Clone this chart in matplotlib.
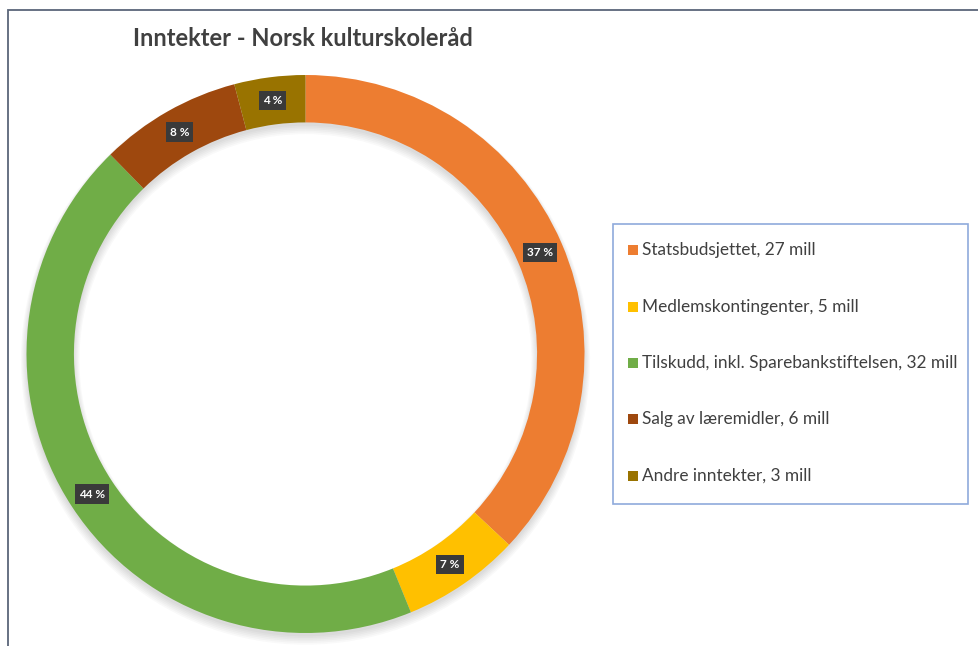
import matplotlib
matplotlib.use("Agg")
import matplotlib.pyplot as plt
from matplotlib.patches import Rectangle
import numpy as np

plt.rcParams['font.family'] = ['Lato', 'DejaVu Sans']

categories = ["Statsbudsjettet, 27 mill", "Medlemskontingenter, 5 mill",
              "Tilskudd, inkl. Sparebankstiftelsen, 32 mill",
              "Salg av læremidler, 6 mill", "Andre inntekter, 3 mill"]
values = [27, 5, 32, 6, 3]
colors = ["#ED7D31", "#FFC000", "#70AD47", "#9E480E", "#997300"]
title = "Inntekter - Norsk kulturskoleråd"

W, H = 979, 646
fig = plt.figure(figsize=(W / 100, H / 100), dpi=100)
fig.patch.set_facecolor("white")

def fx(px):
    return px / W

def fy(py):
    return 1 - py / H

# outer frame
fig.patches.append(Rectangle((fx(8), fy(700)), fx(1200), fy(10) - fy(700),
                             transform=fig.transFigure, fill=False,
                             edgecolor="#5a6679", linewidth=1.3))

cx, cy, R = 305.5, 354, 279
ax = fig.add_axes([fx(cx - R), fy(cy + R), fx(2 * R), (2 * R) / H])
ax.axis("off")

ringw = 0.17
# soft shadow
for k in range(6):
    ax.pie(values, colors=["#000000"] * len(values), startangle=90,
           counterclock=False, radius=1.0 + 0.004 * k,
           center=(0.0, -0.012 - 0.002 * k),
           wedgeprops=dict(width=ringw + 0.008 * k, alpha=0.025, linewidth=0))

wedges, _ = ax.pie(values, colors=colors, startangle=90, counterclock=False,
                   radius=1.0, wedgeprops=dict(width=ringw, linewidth=0))
ax.set_xlim(-1, 1)
ax.set_ylim(-1, 1)
ax.set_aspect("equal")

total = sum(values)
for w, v in zip(wedges, values):
    ang = np.deg2rad((w.theta1 + w.theta2) / 2)
    r = 1 - ringw / 2
    ax.text(r * np.cos(ang), r * np.sin(ang), f"{round(100 * v / total)} %",
            ha="center", va="center", color="white", fontsize=8.5, fontweight="bold",
            bbox=dict(boxstyle="square,pad=0.35", facecolor="#3a3a3a",
                      edgecolor="none"))

fig.text(fx(303), fy(38), title, ha="center", va="center", fontsize=17,
         fontweight="bold", color="#404040")

# legend box
lx0, ly0, lx1, ly1 = 613, 224, 968, 504
fig.patches.append(Rectangle((fx(lx0), fy(ly1)), fx(lx1 - lx0), fy(ly0) - fy(ly1),
                             transform=fig.transFigure, facecolor="white",
                             edgecolor="#8faadc", linewidth=1.2))
rows = [250, 307, 363, 419, 476]
for lab, col, ry in zip(categories, colors, rows):
    fig.patches.append(Rectangle((fx(628), fy(ry + 5)), fx(10), 10 / H,
                                 transform=fig.transFigure, facecolor=col,
                                 edgecolor="none"))
    fig.text(fx(642), fy(ry), lab, ha="left", va="center", fontsize=12.4,
             color="#404040")

fig.savefig("out.png", dpi=100, facecolor="white")
